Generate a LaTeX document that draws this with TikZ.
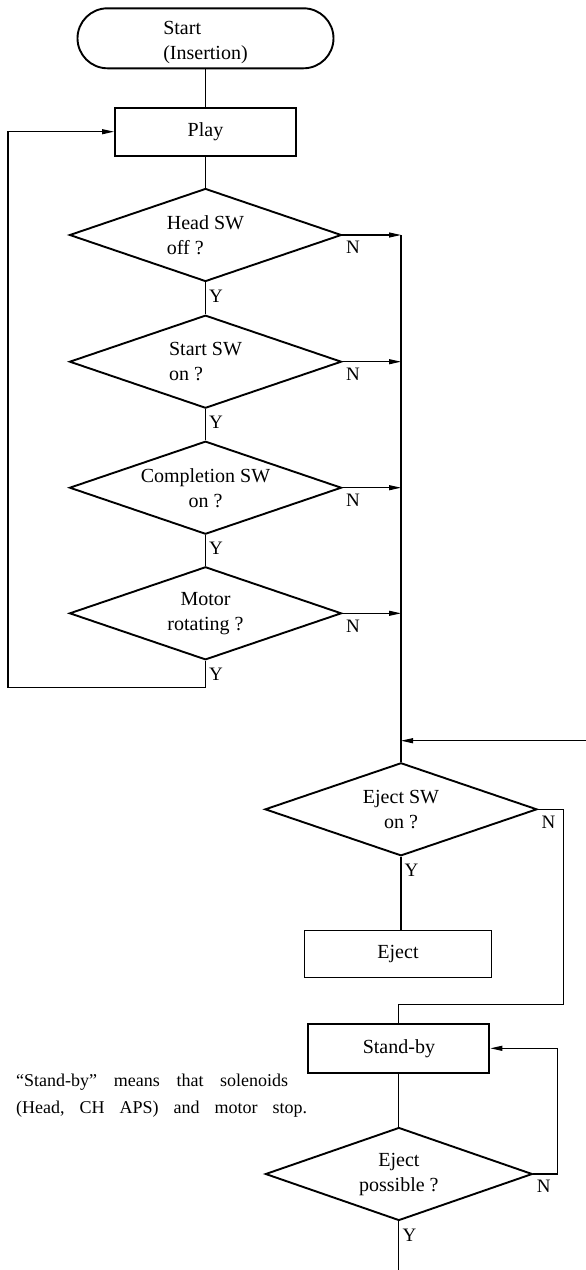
\documentclass[tikz,border=0pt]{standalone}
\usepackage{fontspec}
\setmainfont{Liberation Serif}
\usetikzlibrary{shapes.geometric,arrows.meta}
\begin{document}
\begin{tikzpicture}[x=1pt,y=1pt,
  every node/.style={font=\fontsize{20}{25}\selectfont},
  frame/.style={draw=black, line width=1.9pt},
  procbox/.style={frame, rectangle, inner sep=0pt},
  termbox/.style={frame, rectangle, rounded corners=30pt, inner sep=0pt,
                  minimum width=256pt, minimum height=60pt},
  decision/.style={frame, diamond, aspect=2.92, inner sep=0pt,
                   minimum width=272pt, minimum height=93pt},
  flow/.style={draw=black, line width=1.1pt},
  arrowflow/.style={flow, -{Triangle[length=12pt,width=5pt]}},
  lbl/.style={inner sep=0pt, font=\fontsize{19}{20}\selectfont},
  note/.style={inner sep=0pt, align=left, font=\fontsize{18}{26.3}\selectfont}
]
\useasboundingbox (0,0) rectangle (586,-1270);

% ---- main column: play loop ----
\node[termbox, align=left] (start) at (205.5,-38.3) {\rule{0pt}{21pt}Start\\(Insertion)};
\node[procbox, minimum width=181pt, minimum height=48pt] (play) at (205.5,-131.7) {Play};
\node[decision, align=left]   (head)    at (205.5,-235)   {Head SW\\off ?};
\node[decision, align=left]   (startsw) at (205.5,-361.7) {Start SW\\on ?};
\node[decision, align=center] (compl)   at (205.5,-487.7) {Completion SW\\on ?};
\node[decision, align=center] (motor)   at (205.5,-613.3) {Motor\\rotating ?};

\draw[flow] (start.south) -- (play.north);
\draw[flow] (play.south) -- (head.north);
\draw[flow] (head.south) -- (startsw.north);
\draw[flow] (startsw.south) -- (compl.north);
\draw[flow] (compl.south) -- (motor.north);

% back to Play while everything keeps running
\coordinate (loopL) at (8,-687.7);
\draw[arrowflow] (motor.south) -- (motor.south |- loopL) -- (loopL) |- (play.west);

% ---- collecting rail for the "N" exits ----
\coordinate (railtop) at (401,-235);
\coordinate (railjoin) at (401,-740.7);
\coordinate (feed) at (586,-740.7);

\node[decision, align=center] (ejsw) at (401,-809.3) {Eject SW\\on ?};
\draw[flow] (railtop) -- (ejsw.north);
\draw[arrowflow] (head.east) -- (railtop);
\draw[arrowflow] (startsw.east) -- (startsw.east -| railtop);
\draw[arrowflow] (compl.east) -- (compl.east -| railtop);
\draw[arrowflow] (motor.east) -- (motor.east -| railtop);
\draw[arrowflow] (feed) -- (railjoin);

% ---- eject / stand-by ----
\node[procbox, minimum width=187pt, minimum height=47pt] (eject) at (398,-954) {Eject};
\node[procbox, minimum width=181pt, minimum height=48.7pt] (standby) at (398.9,-1048.3) {Stand-by};
\node[decision, align=center, minimum width=267pt] (ep) at (398.9,-1174) {Eject\\possible ?};

\draw[flow] (ejsw.south) -- (ejsw.south |- eject.north);
\coordinate (bendR) at (563.3,-1004.3);
\draw[flow] (ejsw.east) -| (bendR) -| (standby.north);
\draw[flow] (standby.south) -- (ep.north);
\coordinate (loopR) at (557.7,-1174);
\draw[arrowflow] (ep.east) -- (loopR) |- (standby.east);
\coordinate (exit) at (398.9,-1270);
\draw[flow] (ep.south) -- (exit);

% ---- branch labels ----
\foreach \d in {head,startsw,compl,motor,ejsw,ep}{
  \path (\d.east) ++(10.5,-12.5) node[lbl] (n-\d) {N};
  \path (\d.south) ++(10.5,-13.5) node[lbl] (y-\d) {Y};
}

% ---- explanatory note (anchored on the baseline of its last line) ----
\node[note, anchor=base west] (remark) at (16,-1113)
  {\hbox to 272pt{“Stand-by”\hfill means\hfill that\hfill solenoids}\\
   \hbox to 291pt{(Head,\hfill CH\hfill APS)\hfill and\hfill motor\hfill stop.}};
\end{tikzpicture}
\end{document}
